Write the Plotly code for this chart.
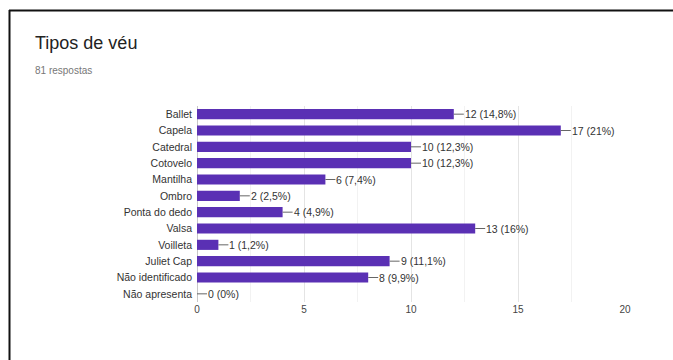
import plotly.graph_objects as go

categories = ["Ballet", "Capela", "Catedral", "Cotovelo", "Mantilha", "Ombro",
              "Ponta do dedo", "Valsa", "Voilleta", "Juliet Cap", "Não identificado", "Não apresenta"]
values = [12, 17, 10, 10, 6, 2, 4, 13, 1, 9, 8, 0]
labels = ["12 (14,8%)", "17 (21%)", "10 (12,3%)", "10 (12,3%)", "6 (7,4%)", "2 (2,5%)",
          "4 (4,9%)", "13 (16%)", "1 (1,2%)", "9 (11,1%)", "8 (9,9%)", "0 (0%)"]
tick_vals = [0, 5, 10, 15, 20]

W, H = 673, 360
ML, MR, MT, MB = 197, 48, 106, 58

fig = go.Figure(go.Bar(
    x=values, y=categories, orientation="h",
    marker=dict(color="#5a30b4", line=dict(width=0)),
    width=0.62, hoverinfo="skip",
))

for v, c, t in zip(values, categories, labels):
    fig.add_annotation(x=v, y=c, text=t, showarrow=True, arrowhead=0, arrowwidth=1,
                       arrowcolor="#666", ax=10, ay=0, xanchor="left", yanchor="middle",
                       font=dict(size=10.5, color="#333"), borderpad=0)

fig.update_layout(
    width=W, height=H,
    margin=dict(l=ML, r=MR, t=MT, b=MB),
    paper_bgcolor="white", plot_bgcolor="white",
    font=dict(family="Liberation Sans, Arial, sans-serif", color="#333"),
    showlegend=False,
    xaxis=dict(range=[0, 20], tickvals=tick_vals, showgrid=True, gridcolor="#e4e4e4",
               gridwidth=1, zeroline=True, zerolinecolor="#c8c8c8", zerolinewidth=1,
               tickfont=dict(size=10, color="#444"), ticks="", showline=False,
               minor=dict(dtick=2.5, showgrid=True, gridcolor="#f2f2f2")),
    yaxis=dict(autorange="reversed", tickfont=dict(size=10.5, color="#333"), ticks="",
               showgrid=False, ticklabelstandoff=4),
    bargap=0.38,
)

def px_x(p):
    return (p - ML) / (W - ML - MR)

def px_y(p):
    return (H - MB - p) / (H - MT - MB)

fig.add_annotation(text="Tipos de véu", x=px_x(33), y=px_y(43), xref="paper", yref="paper",
                   showarrow=False, xanchor="left", yanchor="middle",
                   font=dict(size=18, color="#222"))
fig.add_annotation(text="81 respostas", x=px_x(33), y=px_y(70), xref="paper", yref="paper",
                   showarrow=False, xanchor="left", yanchor="middle",
                   font=dict(size=10, color="#777"))

fig.add_shape(type="line", xref="paper", yref="paper", x0=px_x(9), x1=px_x(673),
              y0=px_y(10.5), y1=px_y(10.5), line=dict(color="#111", width=2))
fig.add_shape(type="line", xref="paper", yref="paper", x0=px_x(9.5), x1=px_x(9.5),
              y0=px_y(10), y1=px_y(360), line=dict(color="#111", width=2))

fig.write_html("out.html", config={"displayModeBar": False},
               post_script="document.body.style.margin='0';document.body.style.overflow='hidden';")
